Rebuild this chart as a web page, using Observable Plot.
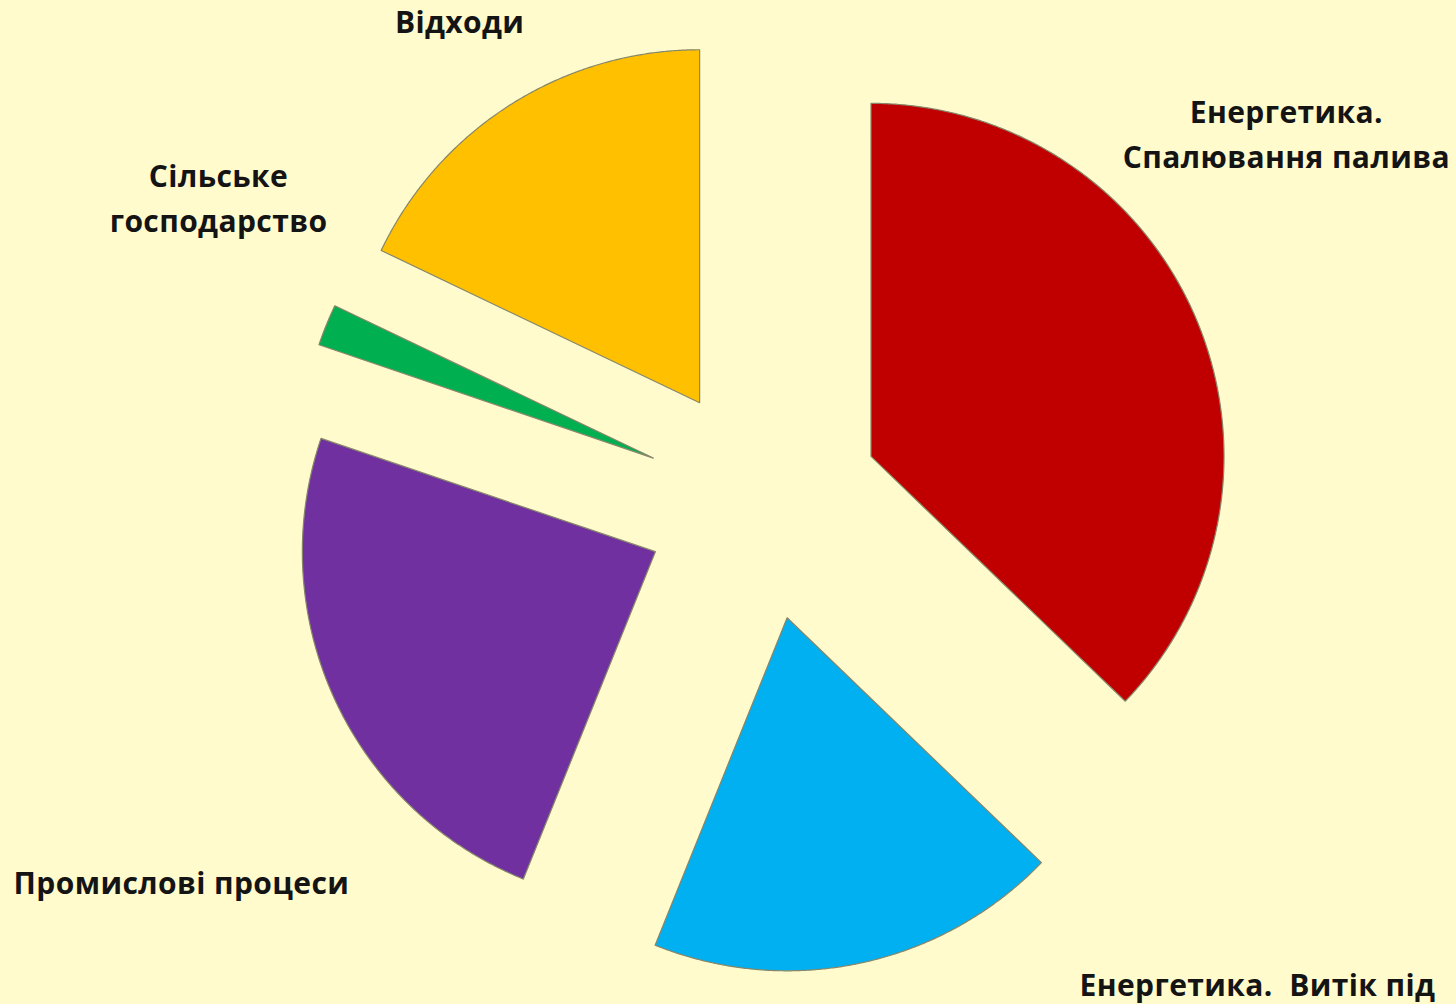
<!DOCTYPE html>
<html>
<head>
<meta charset="utf-8">
<script src="https://cdn.jsdelivr.net/npm/d3@7"></script>
<script src="https://cdn.jsdelivr.net/npm/@observablehq/plot@0.6"></script>
<style>
html, body { margin: 0; padding: 0; background: #FFFBCC; }
#chart { width: 1456px; height: 1004px; overflow: hidden; }
#chart svg text { letter-spacing: 0.4px; }
</style>
</head>
<body>
<div id="chart"></div>
<script>
// ---- data ----
const categories = [
  "Енергетика. Спалювання палива",
  "Енергетика. Витік під",
  "Промислові процеси",
  "Сільське господарство",
  "Відходи"
];
const values = [37.2, 18.9, 24.1, 1.9, 17.9];
const labelTexts = [
  "Енергетика.\nСпалювання палива",
  "Енергетика.  Витік під",
  "Промислові процеси",
  "Сільське\nгосподарство",
  "Відходи"
];
const sliceColors = ["#C00000", "#00B0F0", "#7030A0", "#00B050", "#FFC000"];

// ---- layout (in units of pie radius, centre = 0,0) ----
const W = 1456, H = 1004;
const center = [762, 502];   // pixel position of pie centre
const R = 353;               // pie radius in pixels
const explode = 0.334;       // slice explosion as a fraction of the radius
const labelAnchors = [       // x, y of each label's last baseline
  [1.484, 0.949],
  [1.402, -1.397],
  [-1.646, -1.110],
  [-1.541, 0.766],
  [-0.858, 1.329]
];

// ---- build slices ----
const data = categories.map((c, i) => ({name: c, value: values[i]}));
const arcs = d3.pie().sort(null).value(d => d.value).startAngle(0).endAngle(2 * Math.PI)(data);
const points = [];
arcs.forEach(p => {
  const mid = (p.startAngle + p.endAngle) / 2;
  const ox = explode * Math.sin(mid), oy = explode * Math.cos(mid);
  points.push({name: p.data.name, x: ox, y: oy});
  const n = Math.max(2, Math.ceil((p.endAngle - p.startAngle) / 0.005));
  for (let k = 0; k <= n; ++k) {
    const a = p.startAngle + (p.endAngle - p.startAngle) * k / n;
    points.push({name: p.data.name, x: ox + Math.sin(a), y: oy + Math.cos(a)});
  }
});
const labels = categories.map((c, i) => ({name: c, text: labelTexts[i], x: labelAnchors[i][0], y: labelAnchors[i][1]}));

const chart = Plot.plot({
  width: W,
  height: H,
  margin: 0,
  x: {domain: [-center[0] / R, (W - center[0]) / R], axis: null},
  y: {domain: [-(H - center[1]) / R, center[1] / R], axis: null},
  color: {domain: categories, range: sliceColors},
  style: {background: "#FFFBCC", fontFamily: "'Open Sans', sans-serif", overflow: "hidden"},
  marks: [
    Plot.line(points, {x: "x", y: "y", z: "name", fill: "name", stroke: "#86866a", strokeWidth: 1.2, curve: "linear-closed"}),
    Plot.text(labels, {x: "x", y: "y", text: "text", lineAnchor: "bottom", lineHeight: 1.5, fontSize: 30, fontWeight: 700, fill: "#141414"})
  ]
});
document.getElementById("chart").appendChild(chart);
</script>
</body>
</html>
